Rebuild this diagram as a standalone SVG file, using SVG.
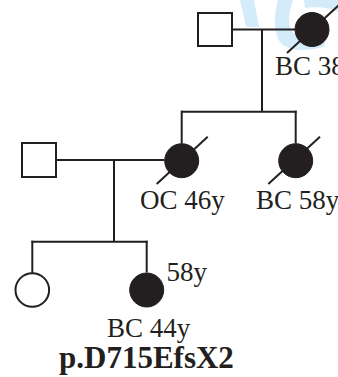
<svg xmlns="http://www.w3.org/2000/svg" width="338" height="377" viewBox="0 0 338 377">
<style>
.ln{stroke:#231f20;stroke-width:2;fill:none}
.m{fill:#fff;stroke:#231f20;stroke-width:2}
.a{fill:#231f20;stroke:#231f20;stroke-width:1}
.t{font-family:"Liberation Serif","Times New Roman",serif;font-size:27px;fill:#231f20}
.b{font-family:"Liberation Serif","Times New Roman",serif;font-size:31px;font-weight:bold;fill:#231f20}
.wm{fill:#d4ecfa}
</style>
<rect width="338" height="377" fill="#fff"/>
<g id="watermark">
<path class="wm" d="M240,0 L254,0 L259,27 L246,27 Z"/>
<path class="wm" d="M278,0 C274,15 273,32 280,42 C288,52 310,52 325,46 L322,36 C308,40 295,38 291,30 C287,22 290,8 293,0 Z"/>
<path class="wm" d="M304,0 L338,0 L338,12 C330,8 318,6 305,8 Z"/>
</g>
<g id="connectors">
<line class="ln" x1="232" y1="29.5" x2="295" y2="29.5"/>
<line class="ln" x1="262" y1="29.5" x2="262" y2="111.7"/>
<line class="ln" x1="181" y1="111.7" x2="296.7" y2="111.7"/>
<line class="ln" x1="181.7" y1="110.7" x2="181.7" y2="143.5"/>
<line class="ln" x1="295.7" y1="110.7" x2="295.7" y2="143.5"/>
<line class="ln" x1="56" y1="160" x2="164.5" y2="160"/>
<line class="ln" x1="114" y1="160" x2="114" y2="241.7"/>
<line class="ln" x1="31.5" y1="241.7" x2="147.5" y2="241.7"/>
<line class="ln" x1="32.3" y1="240.7" x2="32.3" y2="273.2"/>
<line class="ln" x1="146.7" y1="240.7" x2="146.7" y2="272.5"/>
</g>
<g id="n_gf">
<rect class="m" x="198" y="13" width="34" height="33"/>
</g>
<g id="n_gm">
<circle class="a" cx="312" cy="29.5" r="17"/>
<line class="ln" x1="287" y1="53" x2="339" y2="5"/>
<text class="t" x="275" y="75">BC 38</text>
</g>
<g id="n_father">
<rect class="m" x="22" y="143" width="34" height="34"/>
</g>
<g id="n_mother">
<circle class="a" cx="181.7" cy="160.7" r="17"/>
<line class="ln" x1="156.7" y1="184" x2="207.7" y2="136.7"/>
<text class="t" x="140" y="209">OC 46y</text>
</g>
<g id="n_aunt">
<circle class="a" cx="295.7" cy="160.7" r="17"/>
<line class="ln" x1="268.3" y1="184" x2="320" y2="136.7"/>
<text class="t" x="256" y="209">BC 58y</text>
</g>
<g id="n_sister">
<circle class="m" cx="32.3" cy="290" r="16.8"/>
</g>
<g id="n_proband">
<circle class="a" cx="146.7" cy="290" r="17"/>
<text class="t" x="166.5" y="281">58y</text>
<text class="t" x="107" y="337">BC 44y</text>
<text class="b" x="59" y="368">p.D715EfsX2</text>
</g>
</svg>
